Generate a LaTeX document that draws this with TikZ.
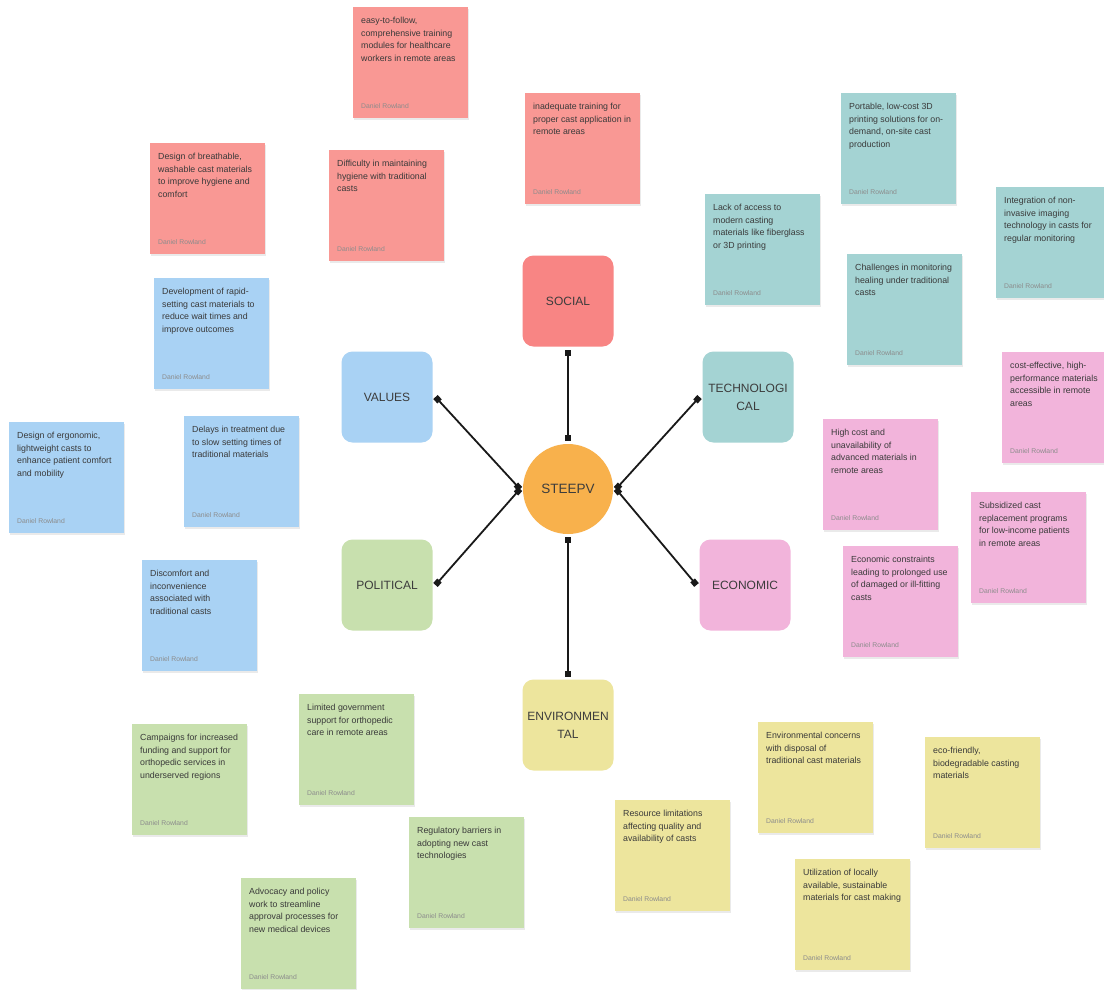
\documentclass[tikz,border=0pt]{standalone}
\usepackage{fontspec}
\setmainfont{Liberation Sans}
\usetikzlibrary{arrows.meta,shadows}

% sticky and category fills
\definecolor{redfill}{HTML}{F99894}
\definecolor{tealfill}{HTML}{A4D3D3}
\definecolor{bluefill}{HTML}{A9D2F4}
\definecolor{pinkfill}{HTML}{F2B4DB}
\definecolor{greenfill}{HTML}{C8E0AE}
\definecolor{yellowfill}{HTML}{EDE59D}
\definecolor{socialfill}{HTML}{F88584}
\definecolor{hubfill}{HTML}{F8B14C}
\definecolor{stickyink}{HTML}{3A3A3A}
\definecolor{labelink}{HTML}{3C3C3C}
\definecolor{authorink}{HTML}{8C8C8C}

\tikzset{
  sticky/.style={rectangle, minimum width=115pt, minimum height=111pt,
    anchor=north west, inner sep=0pt, draw=none,
    drop shadow={opacity=0.16, shadow xshift=0.6pt, shadow yshift=-1.6pt}},
  stickytext/.style={anchor=north west, inner sep=0pt, align=left,
    font=\fontsize{8.8}{12.6}\selectfont, text=stickyink},
  author/.style={anchor=south west, inner sep=0pt,
    font=\fontsize{6.8}{8}\selectfont, text=authorink},
  category/.style={rectangle, rounded corners=11pt, minimum size=91pt,
    inner sep=0pt, align=center, font=\fontsize{12}{18}\selectfont,
    text=labelink, outer sep=3pt},
  hub/.style={circle, minimum size=90pt, inner sep=0pt, fill=hubfill,
    font=\fontsize{13.5}{15}\selectfont, text=labelink, outer sep=3pt},
  link/.style={line width=1.8pt, black!90,
    {Square[length=6pt,width=6pt]}-{Square[length=6pt,width=6pt]}},
}

% name, x, y (top-left corner), fill, text
\newcommand{\stickynote}[5]{%
  \node[sticky, fill=#4] (#1) at (#2,#3) {};
  \node[stickytext] (#1-text) at ([xshift=8pt,yshift=-10pt]#1.north west) {#5};
  \node[author] (#1-by) at ([xshift=8pt,yshift=10pt]#1.south west) {Daniel Rowland};
}

\begin{document}
\begin{tikzpicture}[x=1pt, y=-1pt]
\useasboundingbox[fill=white] (0,0) rectangle (1104,989);

% social
\stickynote{s1}{353}{7}{redfill}{easy-to-follow,\\comprehensive training\\modules for healthcare\\workers in remote areas}
\stickynote{s2}{150}{143}{redfill}{Design of breathable,\\washable cast materials\\to improve hygiene and\\comfort}
\stickynote{s3}{329}{150}{redfill}{Difficulty in maintaining\\hygiene with traditional\\casts}
\stickynote{s4}{525}{93}{redfill}{inadequate training for\\proper cast application in\\remote areas}

% technological
\stickynote{t1}{841}{93}{tealfill}{Portable, low-cost 3D\\printing solutions for on-\\demand, on-site cast\\production}
\stickynote{t2}{705}{194}{tealfill}{Lack of access to\\modern casting\\materials like fiberglass\\or 3D printing}
\stickynote{t3}{847}{254}{tealfill}{Challenges in monitoring\\healing under traditional\\casts}
\stickynote{t4}{996}{187}{tealfill}{Integration of non-\\invasive imaging\\technology in casts for\\regular monitoring}

% economic
\stickynote{e1}{1002}{352}{pinkfill}{cost-effective, high-\\performance materials\\accessible in remote\\areas}
\stickynote{e2}{823}{419}{pinkfill}{High cost and\\unavailability of\\advanced materials in\\remote areas}
\stickynote{e3}{971}{492}{pinkfill}{Subsidized cast\\replacement programs\\for low-income patients\\in remote areas}
\stickynote{e4}{843}{546}{pinkfill}{Economic constraints\\leading to prolonged use\\of damaged or ill-fitting\\casts}

% values
\stickynote{v1}{154}{278}{bluefill}{Development of rapid-\\setting cast materials to\\reduce wait times and\\improve outcomes}
\stickynote{v2}{9}{422}{bluefill}{Design of ergonomic,\\lightweight casts to\\enhance patient comfort\\and mobility}
\stickynote{v3}{184}{416}{bluefill}{Delays in treatment due\\to slow setting times of\\traditional materials}
\stickynote{v4}{142}{560}{bluefill}{Discomfort and\\inconvenience\\associated with\\traditional casts}

% political
\stickynote{p1}{132}{724}{greenfill}{Campaigns for increased\\funding and support for\\orthopedic services in\\underserved regions}
\stickynote{p2}{299}{694}{greenfill}{Limited government\\support for orthopedic\\care in remote areas}
\stickynote{p3}{409}{817}{greenfill}{Regulatory barriers in\\adopting new cast\\technologies}
\stickynote{p4}{241}{878}{greenfill}{Advocacy and policy\\work to streamline\\approval processes for\\new medical devices}

% environmental
\stickynote{n1}{615}{800}{yellowfill}{Resource limitations\\affecting quality and\\availability of casts}
\stickynote{n2}{758}{722}{yellowfill}{Environmental concerns\\with disposal of\\traditional cast materials}
\stickynote{n3}{925}{737}{yellowfill}{eco-friendly,\\biodegradable casting\\materials}
\stickynote{n4}{795}{859}{yellowfill}{Utilization of locally\\available, sustainable\\materials for cast making}

% STEEPV hub and its six categories
\node[hub] (hub) at (568,489) {STEEPV};
\node[category, fill=socialfill] (soc) at (568,301) {SOCIAL};
\node[category, fill=bluefill] (val) at (387,397) {VALUES};
\node[category, fill=tealfill] (tec) at (748,397) {TECHNOLOGI\\CAL};
\node[category, fill=greenfill] (pol) at (387,585) {POLITICAL};
\node[category, fill=pinkfill] (eco) at (745,585) {ECONOMIC};
\node[category, fill=yellowfill] (env) at (568,725) {ENVIRONMEN\\TAL};

\draw[link] (soc.south) -- (hub.north);
\draw[link] (val.east) -- (hub.west);
\draw[link] (pol.east) -- (hub.west);
\draw[link] (tec.west) -- (hub.east);
\draw[link] (eco.west) -- (hub.east);
\draw[link] (env.north) -- (hub.south);
\end{tikzpicture}
\end{document}
